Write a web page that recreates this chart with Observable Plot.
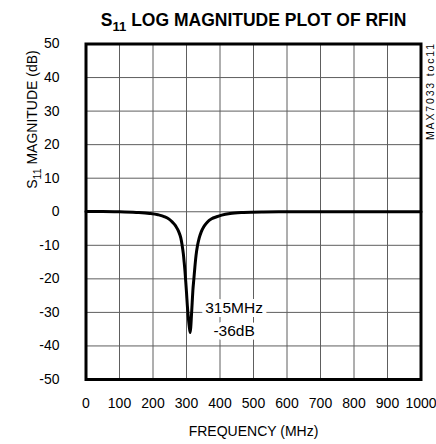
<!DOCTYPE html>
<html><head><meta charset="utf-8">
<script src="https://cdn.jsdelivr.net/npm/d3@7"></script>
<script src="https://cdn.jsdelivr.net/npm/@observablehq/plot@0.6"></script>
<style>html,body{margin:0;padding:0;background:#fff;} svg{display:block}</style>
</head><body><div id="chart"></div>
<script>
const title = "S11 LOG MAGNITUDE PLOT OF RFIN";
const xLabel = "FREQUENCY (MHz)";
const yLabel = "S11 MAGNITUDE (dB)";
const sideNote = "MAX7033 toc11";
const freqMHz = [0, 50, 100, 150, 190, 215, 235, 248, 258, 268, 277, 283, 287, 290.5, 293, 295.5, 297.5, 300, 302.5, 305, 308, 311, 313, 315, 317, 319, 322, 325, 328.5, 333, 338, 344, 352, 362, 375, 390, 405, 430, 470, 530, 600, 700, 800, 900, 1000];
const magDB   = [0.1, 0.1, 0, -0.2, -0.5, -0.9, -1.5, -2.2, -3.1, -4.3, -6, -7.8, -10, -12.5, -15, -17.8, -20.5, -24, -28, -31, -34, -36, -34, -30.5, -27, -23.5, -20, -16.5, -13, -10, -7.8, -6, -4.4, -3.1, -2.1, -1.5, -1, -0.5, -0.2, -0.05, 0, 0, 0, 0, 0];
const xTicks = [0, 100, 200, 300, 400, 500, 600, 700, 800, 900, 1000];
const yTicks = [-50, -40, -30, -20, -10, 0, 10, 20, 30, 40, 50];
const dipNote = [{f: 442, db: -31.5, label: "315MHz\n-36dB"}];

const data = freqMHz.map((f, i) => ({f, db: magDB[i]}));
const fmt = d => String(d);

const chart = Plot.plot({
  width: 436, height: 444,
  marginLeft: 85.5, marginRight: 15.5, marginTop: 43.5, marginBottom: 65,
  style: {fontFamily: "'Liberation Sans', Arial, sans-serif", fontSize: "14px", color: "#000", background: "#fff", overflow: "visible"},
  x: {domain: [0, 1000]},
  y: {domain: [-50, 50]},
  marks: [
    Plot.gridX(xTicks, {stroke: "#5e5e5e", strokeOpacity: 1, strokeWidth: 1}),
    Plot.gridY(yTicks, {stroke: "#5e5e5e", strokeOpacity: 1, strokeWidth: 1}),
    Plot.text(dipNote, {x: "f", y: "db", text: "label", fontSize: 15.5, lineHeight: 1.5, fill: "black", stroke: "white", strokeWidth: 8}),
    Plot.line(data, {x: "f", y: "db", stroke: "black", strokeWidth: 3, curve: "monotone-x"}),
    Plot.frame({stroke: "black", strokeWidth: 3}),
    Plot.axisX(xTicks, {tickSize: 0, tickPadding: 18.5, fontSize: 14, tickFormat: fmt, label: null}),
    Plot.axisY(yTicks, {tickSize: 0, tickPadding: 26.5, fontSize: 14, tickFormat: fmt, label: null}),
    Plot.text([title], {text: d => d, frameAnchor: "top", dy: -23.5, lineAnchor: "middle", fontWeight: "bold", fontSize: 17.5}),
    Plot.text([xLabel], {text: d => d, frameAnchor: "bottom", dy: 52, lineAnchor: "middle", fontSize: 14}),
    Plot.text([yLabel], {text: d => d, frameAnchor: "left", dx: -53.5, dy: -23, rotate: -90, lineAnchor: "middle", fontSize: 14}),
    Plot.text([sideNote], {text: d => d, frameAnchor: "top-right", dx: 9.5, dy: 0, rotate: -90, textAnchor: "end", lineAnchor: "middle", fontSize: 10.5})
  ]
});
document.getElementById("chart").appendChild(chart);

const ns = "http://www.w3.org/2000/svg";
chart.querySelectorAll("text").forEach(t => {
  const s = t.textContent;
  if (s === sideNote) {
    t.setAttribute("textLength", 96);
    t.setAttribute("lengthAdjust", "spacing");
  }
  // subscript "11" in S11
  if (s.startsWith("S11") && t.children.length === 0) {
    const fs = parseFloat(getComputedStyle(t).fontSize) || 14;
    const shift = fs * 0.28;
    t.textContent = "";
    const a = document.createElementNS(ns, "tspan"); a.textContent = "S";
    const b = document.createElementNS(ns, "tspan"); b.textContent = "11";
    b.setAttribute("font-size", (fs * 0.75) + "px"); b.setAttribute("dy", shift);
    const c = document.createElementNS(ns, "tspan"); c.textContent = s.slice(3);
    c.setAttribute("dy", -shift);
    t.append(a, b, c);
  }
});
</script></body></html>
